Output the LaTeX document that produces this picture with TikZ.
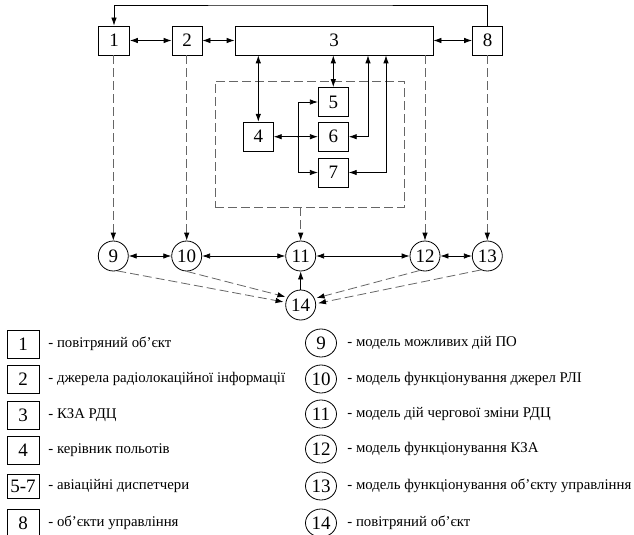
\documentclass[tikz,border=0pt]{standalone}
\usepackage{fontspec}
\setmainfont{Liberation Serif}
\usetikzlibrary{arrows.meta,shapes.geometric}

\begin{document}
\begin{tikzpicture}[x=1pt,y=-1pt,line width=0.8pt,>={Latex[length=8pt,width=5.5pt]},
		blok/.style={draw,minimum width=30pt,minimum height=29pt,inner sep=0pt,font=\fontsize{19}{19}\selectfont},
		kolo/.style={draw,circle,minimum size=30pt,inner sep=0pt,font=\fontsize{19}{19}\selectfont},
		shtrykh/.style={draw=black!60,dash pattern=on 9pt off 4pt},
		strilka/.style={-{Latex[length=8pt,width=5.5pt,color=black]}},
		opys/.style={anchor=west,inner sep=0pt,font=\fontsize{14.8}{15}\selectfont}]
		\useasboundingbox (0,0) rectangle (634,535);
		\node[blok,minimum width=31pt] (b1) at (114,40.5) {1};
		\node[blok] (b2) at (187,40.5) {2};
		\node[blok,minimum width=198pt] (b3) at (334,40.5) {3};
		\node[blok] (b8) at (487.5,40.5) {8};
		\node[shtrykh,minimum width=189pt,minimum height=126pt] (grp) at (309.5,144) {};
		\node[blok] (b4) at (258.3,136.7) {4};
		\node[blok] (b5) at (333.3,102) {5};
		\node[blok] (b6) at (333.3,136.7) {6};
		\node[blok] (b7) at (333.3,172.5) {7};
		\foreach \n/\x in {9/113.3,10/186.7,11/300.7,12/425,13/487.3}
		\node[kolo] (c\n) at (\x,256) {\n};
		\node[kolo] (c14) at (300.7,305) {14};
		\coordinate (verkh) at (300,5);
		\draw[->] (b8.north) |- (verkh) -| (b1.north);
		\draw[<->] (b1) -- (b2);
		\draw[<->] (b2) -- (b3);
		\draw[<->] (b3) -- (b8);
		\draw[<->] (b3.south -| b4.north) -- (b4.north);
		\draw[<->] (b3.south -| b5.north) -- (b5.north);
		\draw[<->] ([xshift=34pt]b3.south) |- (b6.east);
		\draw[<->] ([xshift=52pt]b3.south) |- (b7.east);
		\coordinate (vuzol) at (298.3,136.7);
		\draw[<->] (b4.east) -- (b6.west);
		\draw[->] (vuzol) |- (b5.west);
		\draw[->] (vuzol) |- (b7.west);
		\fill (vuzol) circle (1.2pt);
		\draw[shtrykh,strilka] (b1.south -| c9.north) -- (c9.north);
		\draw[shtrykh,strilka] (b2.south -| c10.north) -- (c10.north);
		\draw[shtrykh,strilka] (grp.south -| c11.north) -- (c11.north);
		\draw[shtrykh,strilka] (b3.south -| c12.north) -- (c12.north);
		\draw[shtrykh,strilka] (b8.south -| c13.north) -- (c13.north);
		\foreach \a/\b in {9/10,10/11,11/12,12/13}
		\draw[<->] (c\a) -- (c\b);
		\draw[->] (c14) -- (c11);
		\draw[shtrykh,strilka,shorten >=2pt] (c9.-75) -- (c14.170);
		\draw[shtrykh,strilka,shorten >=2pt] (c10.-90) -- (c14.150);
		\draw[shtrykh,strilka,shorten >=2pt] (c12.-110) -- (c14.25);
		\draw[shtrykh,strilka,shorten >=2pt] (c13.-115) -- (c14.5);
		\foreach \n/\h/\t/\y [count=\i] in {1/28/повітряний об'єкт/344, 2/28/джерела радіолокаційної інформації/379,
			3/28/КЗА РДЦ/415, 4/28/керівник польотів/450, 5-7/24/авіаційні диспетчери/486, 8/28/об'єкти управління/523}
		{\node[blok,minimum width=32pt,minimum height=\h pt] (l\i) at (23,\y) {\n};
		\node[opys] (t\i) at (48,\y) {- \t};}
		\foreach \n/\t/\y in {9/модель можливих дій ПО/343, 10/модель функціонування джерел РЛІ/379,
			11/модель дій чергової зміни РДЦ/414, 12/модель функціонування КЗА/449,
			13/модель функціонування об'єкту управління/486, 14/повітряний об'єкт/523}
		{\node[kolo,ellipse,minimum width=31pt,minimum height=28pt] (k\n) at (321,\y) {\n};
		\node[opys] (s\n) at (347,\y) {- \t};}
	\end{tikzpicture}
\end{document}
